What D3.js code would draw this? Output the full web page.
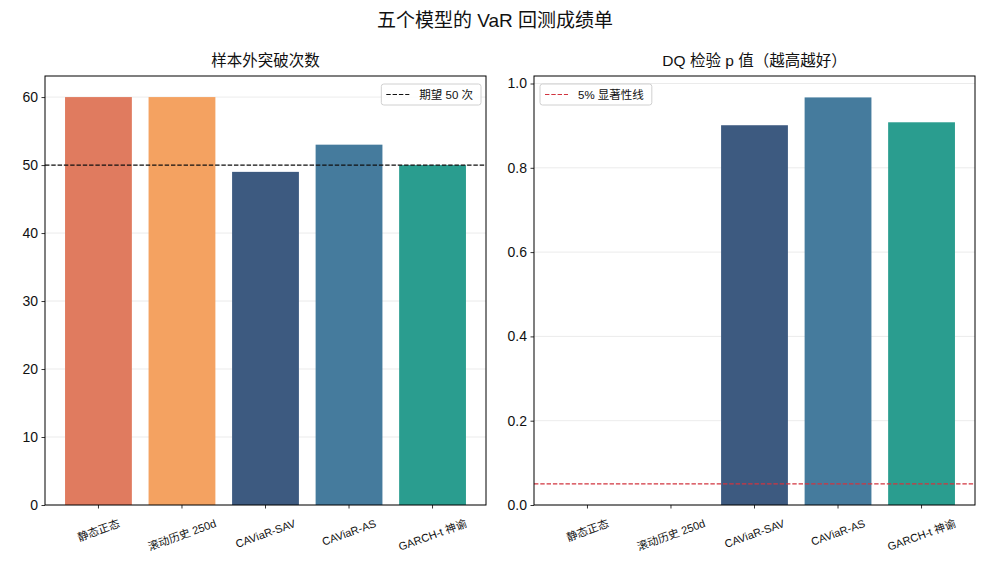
<!DOCTYPE html>
<html><head><meta charset="utf-8">
<script src="https://cdn.jsdelivr.net/npm/d3@7"></script>
<style>body{margin:0;background:#fff}svg{display:block}text{font-family:"Liberation Sans","Noto Sans CJK SC",sans-serif;fill:#111}</style>
</head><body><svg id="c" width="990" height="572"></svg>
<script>
const categories = ["静态正态", "滚动历史 250d", "CAViaR-SAV", "CAViaR-AS", "GARCH-t 神谕"];
const colors = ["#e07b5f", "#f4a261", "#3d5a80", "#457b9d", "#2a9d8f"];
const exceedances = [60, 60, 49, 53, 50];
const dqPValues = [0.0, 0.0, 0.901, 0.967, 0.908];
const expectedCount = 50;
const sigLevel = 0.05;
const leftTicks = [0, 10, 20, 30, 40, 50, 60];
const rightTicks = [0.0, 0.2, 0.4, 0.6, 0.8, 1.0];
const FONT = '"Liberation Sans","Noto Sans CJK SC",sans-serif';

const svg = d3.select("#c");
svg.append("text").attr("x", 495).attr("y", 27).attr("text-anchor", "middle")
  .attr("font-size", 19).text("五个模型的 VaR 回测成绩单");

function panel(opt) {
  const {x0, x1, y0, y1, values, yMax, ticks, fmt, title, refVal, refColor, legendText, legendPos} = opt;
  const g = svg.append("g");
  const x = d3.scaleBand().domain(categories).range([x0, x1]).paddingInner(0.2).paddingOuter(0.24);
  const y = d3.scaleLinear().domain([0, yMax]).range([y1, y0]);
  g.append("g").selectAll("line").data(ticks).join("line")
    .attr("x1", x0).attr("x2", x1).attr("y1", d => y(d)).attr("y2", d => y(d))
    .attr("stroke", "#e6e6e6").attr("stroke-width", 0.8);
  g.append("g").selectAll("rect").data(values).join("rect")
    .attr("x", (d, i) => x(categories[i])).attr("width", x.bandwidth())
    .attr("y", d => y(d)).attr("height", d => y(0) - y(d))
    .attr("fill", (d, i) => colors[i]);
  g.append("line").attr("x1", x0).attr("x2", x1).attr("y1", y(refVal)).attr("y2", y(refVal))
    .attr("stroke", refColor).attr("stroke-width", 1.2).attr("stroke-dasharray", "4.4,1.9");
  g.append("rect").attr("x", x0).attr("y", y0).attr("width", x1 - x0).attr("height", y1 - y0)
    .attr("fill", "none").attr("stroke", "#000").attr("stroke-width", 1);
  const ya = g.append("g").attr("transform", `translate(${x0},0)`)
    .call(d3.axisLeft(y).tickValues(ticks).tickFormat(fmt).tickSize(3.5).tickPadding(3.5));
  ya.select(".domain").remove();
  ya.selectAll("line").attr("stroke", "#000").attr("stroke-width", 0.8);
  ya.selectAll("text").attr("font-size", 14).attr("fill", "#111").style("font-family", FONT);
  const xa = g.append("g").attr("transform", `translate(0,${y1})`)
    .call(d3.axisBottom(x).tickSize(3.5).tickFormat(""));
  xa.select(".domain").remove();
  xa.selectAll("line").attr("stroke", "#000").attr("stroke-width", 0.8);
  const ang = 20 * Math.PI / 180;
  categories.forEach(c => {
    const cx = x(c) + x.bandwidth() / 2;
    const t = g.append("text").attr("font-size", 11).attr("text-anchor", "middle")
      .attr("dominant-baseline", "central").text(c);
    const w = t.node().getComputedTextLength();
    const h = 12;
    const bh = w * Math.sin(ang) + h * Math.cos(ang);
    t.attr("transform", `translate(${cx},${y1 + 12 + bh / 2}) rotate(-20)`);
  });
  g.append("text").attr("x", (x0 + x1) / 2).attr("y", y0 - 10).attr("text-anchor", "middle")
    .attr("font-size", 15.5).text(title);
  const lg = g.append("g").attr("transform", `translate(${legendPos[0]},${legendPos[1]})`);
  const lt = lg.append("text").attr("x", 38).attr("y", 10.5).attr("font-size", 11.5)
    .attr("dominant-baseline", "central").text(legendText);
  const lw = lt.node().getComputedTextLength() + 38 + 8;
  lg.insert("rect", "text").attr("x", 0).attr("y", 0).attr("width", lw).attr("height", 21)
    .attr("rx", 2.5).attr("fill", "#fff").attr("fill-opacity", 0.8).attr("stroke", "#d0d0d0").attr("stroke-width", 1);
  lg.append("line").attr("x1", 5).attr("x2", 28).attr("y1", 10.5).attr("y2", 10.5)
    .attr("stroke", refColor).attr("stroke-width", 1.2).attr("stroke-dasharray", "4.4,1.9");
  return lw;
}

const lwTmp = (() => { const t = svg.append("text").attr("font-size", 11.5).text("期望 " + expectedCount + " 次"); const w = t.node().getComputedTextLength(); t.remove(); return w + 46; })();
panel({x0: 45, x1: 486, y0: 76, y1: 505, values: exceedances, yMax: 63.1, ticks: leftTicks,
  fmt: d3.format("d"), title: "样本外突破次数", refVal: expectedCount, refColor: "#111",
  legendText: "期望 " + expectedCount + " 次", legendPos: [481 - lwTmp, 84]});
panel({x0: 534, x1: 975, y0: 76, y1: 505, values: dqPValues, yMax: 1.0178, ticks: rightTicks,
  fmt: d3.format(".1f"), title: "DQ 检验 p 值（越高越好）", refVal: sigLevel, refColor: "#d1343f",
  legendText: "5% 显著性线", legendPos: [540, 84]});
</script></body></html>
